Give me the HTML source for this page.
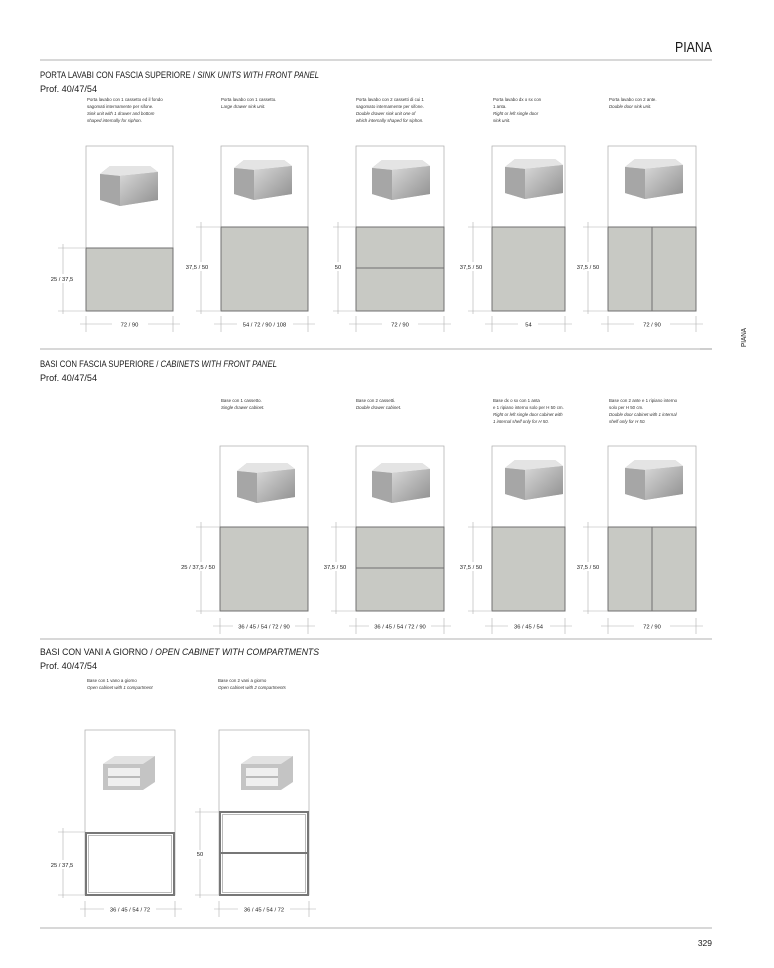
<!DOCTYPE html>
<html><head><meta charset="utf-8"><style>
html,body{margin:0;padding:0;background:#fff}
svg{display:block}
text{font-family:"Liberation Sans",sans-serif;fill:#1a1a1a}
.d{font-size:4.4px;fill:#333}
.i{font-style:italic}
.t{font-size:9.5px}
.l{font-size:5.8px;fill:#333}
.g{fill:#c8c9c4;stroke:#707070;stroke-width:1}
.fr{fill:none;stroke:#aaa;stroke-width:0.7}
.dl{stroke:#b0b0b0;stroke-width:0.6;fill:none}
</style></head><body>
<svg width="774" height="968" viewBox="0 0 774 968" xmlns="http://www.w3.org/2000/svg">
<defs>
<linearGradient id="cg" x1="0" y1="0" x2="1" y2="1"><stop offset="0" stop-color="#d8d8d8"/><stop offset="1" stop-color="#8f8f8f"/></linearGradient>
<g id="cab">
<polygon points="0,8 10,0 50,0 58,6 58,34 20,40 0,34" fill="#b8b8b8"/>
<polygon points="0,8 10,0 50,0 58,6 20,10" fill="#e4e4e4"/>
<polygon points="20,10 58,6 58,34 20,40" fill="url(#cg)"/>
<polygon points="0,8 20,10 20,40 0,34" fill="#a6a6a6"/>
</g>
<g id="open">
<polygon points="0,8 12,0 52,0 52,26 40,34 0,34" fill="#c4c4c4"/>
<polygon points="0,8 12,0 52,0 40,8" fill="#e2e2e2"/>
<rect x="5" y="12" width="32" height="18" fill="#efefef"/>
<line x1="5" y1="21" x2="37" y2="21" stroke="#999" stroke-width="1.2"/>
</g>
</defs>

<text x="675" y="52" textLength="37" lengthAdjust="spacingAndGlyphs" style="font-size:15px">PIANA</text>
<line x1="40" y1="60" x2="712" y2="60" stroke="#999" stroke-width="0.8"/>
<text transform="translate(746,347) rotate(-90)" textLength="19" lengthAdjust="spacingAndGlyphs" style="font-size:7.5px">PIANA</text>
<line x1="700" y1="349" x2="712" y2="349" stroke="#999" stroke-width="0.8"/>

<!-- SECTION 1 -->
<text x="40" y="78" class="t" textLength="279" lengthAdjust="spacingAndGlyphs">PORTA LAVABI CON FASCIA SUPERIORE / <tspan class="i">SINK UNITS WITH FRONT PANEL</tspan></text>
<text x="40" y="92" class="t" textLength="57" lengthAdjust="spacingAndGlyphs">Prof. 40/47/54</text>
<text class="d" x="87" y="101">Porta lavabo con 1 cassetto ed il fondo</text>
<text class="d" x="87" y="108">sagomati internamente per sifone.</text>
<text class="d i" x="87" y="115">Sink unit with 1 drawer and bottom</text>
<text class="d i" x="87" y="122">shaped internally for siphon.</text>
<text class="d" x="221" y="101">Porta lavabo con 1 cassetto.</text>
<text class="d i" x="221" y="108">Large drawer sink unit.</text>
<text class="d" x="356" y="101">Porta lavabo con 2 cassetti di cui 1</text>
<text class="d" x="356" y="108">sagomato internamente per sifone.</text>
<text class="d i" x="356" y="115">Double drawer sink unit one of</text>
<text class="d i" x="356" y="122">which internally shaped for siphon.</text>
<text class="d" x="493" y="101">Porta lavabo dx o sx con</text>
<text class="d" x="493" y="108">1 anta.</text>
<text class="d i" x="493" y="115">Right or left single door</text>
<text class="d i" x="493" y="122">sink unit.</text>
<text class="d" x="609" y="101">Porta lavabo con 2 ante.</text>
<text class="d i" x="609" y="108">Double door sink unit.</text>

<rect class="fr" x="86" y="146" width="87" height="165"/>
<rect class="g" x="86" y="248" width="87" height="63"/>
<use href="#cab" x="100" y="166"/>
<rect class="fr" x="221" y="146" width="87" height="165"/>
<rect class="g" x="221" y="227" width="87" height="84"/>
<use href="#cab" x="234" y="160"/>
<rect class="fr" x="356" y="146" width="88" height="165"/>
<rect class="g" x="356" y="227" width="88" height="84"/>
<line x1="356" y1="268" x2="444" y2="268" stroke="#707070"/>
<use href="#cab" x="372" y="160"/>
<rect class="fr" x="492" y="146" width="73" height="165"/>
<rect class="g" x="492" y="227" width="73" height="84"/>
<use href="#cab" x="505" y="159"/>
<rect class="fr" x="608" y="146" width="88" height="165"/>
<rect class="g" x="608" y="227" width="88" height="84"/>
<line x1="652" y1="227" x2="652" y2="311" stroke="#707070"/>
<use href="#cab" x="625" y="159"/>

<g class="dl">
<path d="M63 244V314M58 248H86M58 311H86"/>
<path d="M201 222V314M196 227H221M196 311H221"/>
<path d="M338 222V314M333 227H356M333 311H356"/>
<path d="M473 222V314M468 227H492M468 311H492"/>
<path d="M588 222V314M583 227H608M583 311H608"/>
<path d="M80 324H180M86 316V332M173 316V332"/>
<path d="M214 324H315M221 316V332M308 316V332"/>
<path d="M349 324H451M356 316V332M444 316V332"/>
<path d="M485 324H572M492 316V332M565 316V332"/>
<path d="M601 324H703M608 316V332M696 316V332"/>
</g>
<g class="l" text-anchor="middle">
<rect x="49" y="274" width="28" height="9" fill="#fff"/><text x="62" y="281">25 / 37,5</text>
<rect x="185" y="262" width="28" height="9" fill="#fff"/><text x="197" y="269">37,5 / 50</text>
<rect x="332" y="262" width="12" height="9" fill="#fff"/><text x="338" y="269">50</text>
<rect x="457" y="262" width="28" height="9" fill="#fff"/><text x="471" y="269">37,5 / 50</text>
<rect x="574" y="262" width="28" height="9" fill="#fff"/><text x="588" y="269">37,5 / 50</text>
<rect x="112" y="320" width="36" height="9" fill="#fff"/><text x="129.5" y="326.5">72 / 90</text>
<rect x="237" y="320" width="56" height="9" fill="#fff"/><text x="264.5" y="326.5">54 / 72 / 90 / 108</text>
<rect x="382" y="320" width="36" height="9" fill="#fff"/><text x="400" y="326.5">72 / 90</text>
<rect x="518" y="320" width="20" height="9" fill="#fff"/><text x="528.5" y="326.5">54</text>
<rect x="634" y="320" width="36" height="9" fill="#fff"/><text x="652" y="326.5">72 / 90</text>
</g>

<line x1="40" y1="349" x2="712" y2="349" stroke="#999" stroke-width="0.8"/>

<!-- SECTION 2 -->
<text x="40" y="367" class="t" textLength="237" lengthAdjust="spacingAndGlyphs">BASI CON FASCIA SUPERIORE / <tspan class="i">CABINETS WITH FRONT PANEL</tspan></text>
<text x="40" y="381" class="t" textLength="57" lengthAdjust="spacingAndGlyphs">Prof. 40/47/54</text>
<text class="d" x="221" y="402">Base con 1 cassetto.</text>
<text class="d i" x="221" y="409">Single drawer cabinet.</text>
<text class="d" x="356" y="402">Base con 2 cassetti.</text>
<text class="d i" x="356" y="409">Double drawer cabinet.</text>
<text class="d" x="493" y="402">Base dx o sx con 1 anta</text>
<text class="d" x="493" y="409">e 1 ripiano interno solo per H 50 cm.</text>
<text class="d i" x="493" y="416">Right or left single door cabinet with</text>
<text class="d i" x="493" y="423">1 internal shelf only for H 50.</text>
<text class="d" x="609" y="402">Base con 2 ante e 1 ripiano interno</text>
<text class="d" x="609" y="409">solo per H 50 cm.</text>
<text class="d i" x="609" y="416">Double door cabinet with 1 internal</text>
<text class="d i" x="609" y="423">shelf only for H 50.</text>

<rect class="fr" x="220" y="446" width="88" height="165"/>
<rect class="g" x="220" y="527" width="88" height="84"/>
<use href="#cab" x="237" y="463"/>
<rect class="fr" x="356" y="446" width="88" height="165"/>
<rect class="g" x="356" y="527" width="88" height="84"/>
<line x1="356" y1="568" x2="444" y2="568" stroke="#707070"/>
<use href="#cab" x="372" y="463"/>
<rect class="fr" x="492" y="446" width="73" height="165"/>
<rect class="g" x="492" y="527" width="73" height="84"/>
<use href="#cab" x="505" y="460"/>
<rect class="fr" x="608" y="446" width="88" height="165"/>
<rect class="g" x="608" y="527" width="88" height="84"/>
<line x1="652" y1="527" x2="652" y2="611" stroke="#707070"/>
<use href="#cab" x="625" y="460"/>

<g class="dl">
<path d="M201 522V614M196 527H220M196 611H220"/>
<path d="M336 522V614M331 527H356M331 611H356"/>
<path d="M473 522V614M468 527H492M468 611H492"/>
<path d="M588 522V614M583 527H608M583 611H608"/>
<path d="M213 626H315M220 618V634M308 618V634"/>
<path d="M349 626H451M356 618V634M444 618V634"/>
<path d="M485 626H572M492 618V634M565 618V634"/>
<path d="M601 626H703M608 618V634M696 618V634"/>
</g>
<g class="l" text-anchor="middle">
<rect x="179" y="562" width="38" height="9" fill="#fff"/><text x="198" y="569">25 / 37,5 / 50</text>
<rect x="321" y="562" width="28" height="9" fill="#fff"/><text x="335" y="569">37,5 / 50</text>
<rect x="457" y="562" width="28" height="9" fill="#fff"/><text x="471" y="569">37,5 / 50</text>
<rect x="574" y="562" width="28" height="9" fill="#fff"/><text x="588" y="569">37,5 / 50</text>
<rect x="233" y="622" width="62" height="9" fill="#fff"/><text x="264" y="628.5">36 / 45 / 54 / 72 / 90</text>
<rect x="369" y="622" width="62" height="9" fill="#fff"/><text x="400" y="628.5">36 / 45 / 54 / 72 / 90</text>
<rect x="508" y="622" width="42" height="9" fill="#fff"/><text x="528.5" y="628.5">36 / 45 / 54</text>
<rect x="634" y="622" width="36" height="9" fill="#fff"/><text x="652" y="628.5">72 / 90</text>
</g>

<line x1="40" y1="639" x2="712" y2="639" stroke="#999" stroke-width="0.8"/>

<!-- SECTION 3 -->
<text x="40" y="655" class="t" textLength="279" lengthAdjust="spacingAndGlyphs">BASI CON VANI A GIORNO / <tspan class="i">OPEN CABINET WITH COMPARTMENTS</tspan></text>
<text x="40" y="669" class="t" textLength="57" lengthAdjust="spacingAndGlyphs">Prof. 40/47/54</text>
<text class="d" x="87" y="682">Base con 1 vano a giorno</text>
<text class="d i" x="87" y="689">Open cabinet with 1 compartment</text>
<text class="d" x="218" y="682">Base con 2 vani a giorno</text>
<text class="d i" x="218" y="689">Open cabinet with 2 compartments</text>

<rect class="fr" x="85" y="730" width="90" height="165"/>
<rect x="86" y="833" width="88" height="62" fill="#fff" stroke="#777" stroke-width="2"/>
<rect x="88.5" y="835.5" width="83" height="57" fill="none" stroke="#bbb" stroke-width="1"/>
<use href="#open" x="103" y="756"/>
<rect class="fr" x="219" y="730" width="90" height="165"/>
<rect x="220" y="812" width="88" height="83" fill="#fff" stroke="#777" stroke-width="2"/>
<rect x="222.5" y="814.5" width="83" height="78" fill="none" stroke="#bbb" stroke-width="1"/>
<line x1="221" y1="853" x2="307" y2="853" stroke="#777" stroke-width="2"/>
<use href="#open" x="241" y="756"/>

<g class="dl">
<path d="M63 828V898M58 832H85M58 895H85"/>
<path d="M200 808V898M195 812H219M195 895H219"/>
<path d="M80 909H182M85 901V917M175 901V917"/>
<path d="M214 909H316M219 901V917M309 901V917"/>
</g>
<g class="l" text-anchor="middle">
<rect x="49" y="860" width="28" height="9" fill="#fff"/><text x="62" y="867">25 / 37,5</text>
<rect x="193" y="850" width="12" height="9" fill="#fff"/><text x="200" y="856">50</text>
<rect x="104" y="905" width="52" height="9" fill="#fff"/><text x="130" y="911.5">36 / 45 / 54 / 72</text>
<rect x="238" y="905" width="52" height="9" fill="#fff"/><text x="264" y="911.5">36 / 45 / 54 / 72</text>
</g>

<line x1="40" y1="928" x2="712" y2="928" stroke="#999" stroke-width="0.8"/>
<text x="712" y="946" text-anchor="end" style="font-size:8.5px">329</text>
</svg>
</body></html>
